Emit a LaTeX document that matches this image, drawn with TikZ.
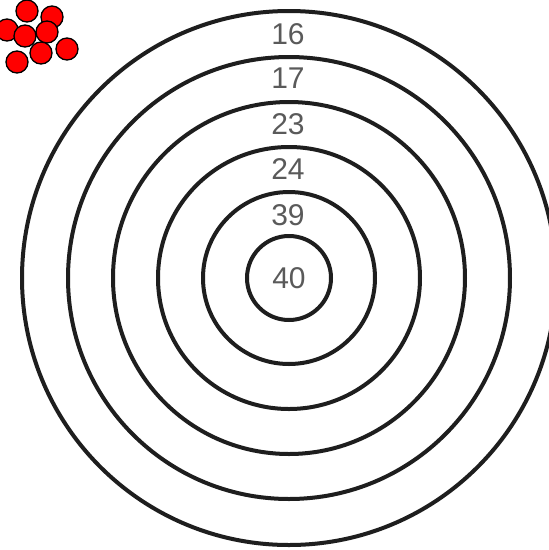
\documentclass[tikz,border=0pt]{standalone}
\usepackage{fontspec}
\setmainfont{Liberation Sans}
\usepackage{xcolor}
\definecolor{ringline}{HTML}{1E1E1E}
\definecolor{numgray}{HTML}{5A5A5A}

\begin{document}
\begin{tikzpicture}[x=1pt,y=-1pt,
      ring/.style={draw=ringline,line width=4pt},
      score/.style={text=numgray,font=\fontsize{30}{30}\selectfont,inner sep=0pt},
      ball/.style={draw=black,fill=red,line width=1.3pt}]
    \useasboundingbox[fill=white] (0,0) rectangle (549,550);
    \coordinate (ctr) at (289,278);
    % rings, outside in
    \draw[ring] (ctr) circle[radius=267pt];
    \draw[ring] (ctr) circle[radius=221pt];
    \draw[ring] (ctr) circle[radius=176pt];
    \draw[ring] (ctr) circle[radius=131pt];
    \draw[ring] (ctr) circle[radius=86pt];
    \draw[ring] (ctr) circle[radius=42pt];
    % scores
    \node[score] (s16) at (288,34) {16};
    \node[score] (s17) at (288,78) {17};
    \node[score] (s23) at (288,124) {23};
    \node[score] (s24) at (288,169) {24};
    \node[score] (s39) at (288,215) {39};
    \node[score] (s40) at (ctr) {40};
    % shots
    \draw[ball] (27,11) circle[radius=11pt];
    \draw[ball] (52,17) circle[radius=11pt];
    \draw[ball] (7,30) circle[radius=11pt];
    \draw[ball] (25,36) circle[radius=11pt];
    \draw[ball] (47,32) circle[radius=11pt];
    \draw[ball] (41,53) circle[radius=11pt];
    \draw[ball] (67,49) circle[radius=11pt];
    \draw[ball] (17,62) circle[radius=11pt];
\end{tikzpicture}
\end{document}
